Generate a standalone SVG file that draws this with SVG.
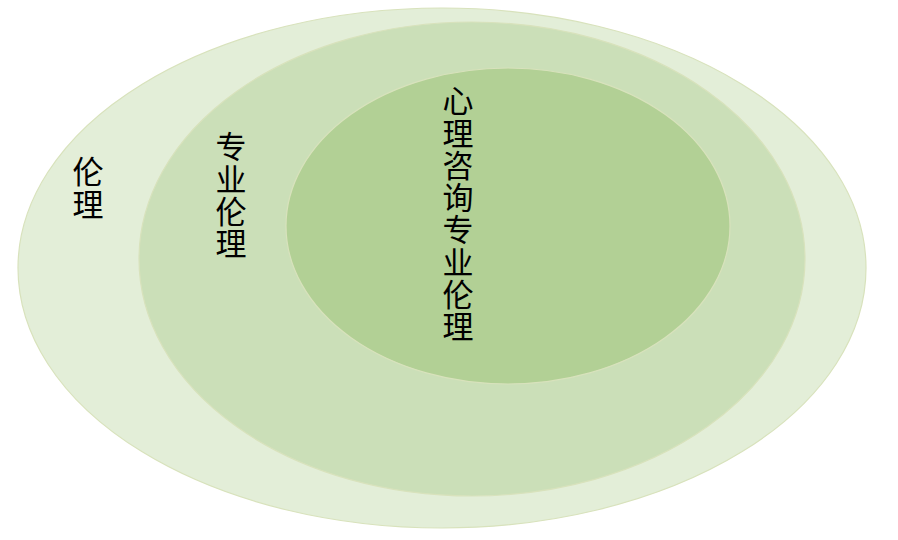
<svg xmlns="http://www.w3.org/2000/svg" width="898" height="540" viewBox="0 0 898 540">
<style>
.e{stroke:#d8e2bc;stroke-width:1.2}
.t{font-family:"Noto Sans CJK SC","Liberation Sans",sans-serif;font-size:31px;fill:#000;writing-mode:vertical-rl;text-anchor:start;letter-spacing:1.3px}
</style>
<rect width="898" height="540" fill="#fff"/>
<g id="outer">
<ellipse class="e" cx="442" cy="268" rx="424" ry="260" fill="#e3eed8"/>
<text class="t" x="88" y="156">伦理</text>
</g>
<g id="middle">
<ellipse class="e" cx="472" cy="259" rx="333" ry="237" fill="#cbdfb8"/>
<text class="t" x="231" y="131">专业伦理</text>
</g>
<g id="inner">
<ellipse class="e" cx="508" cy="226" rx="222" ry="158" fill="#b2d095"/>
<text class="t" x="458" y="85">心理咨询专业伦理</text>
</g>
<g id="connectors"/>
</svg>
